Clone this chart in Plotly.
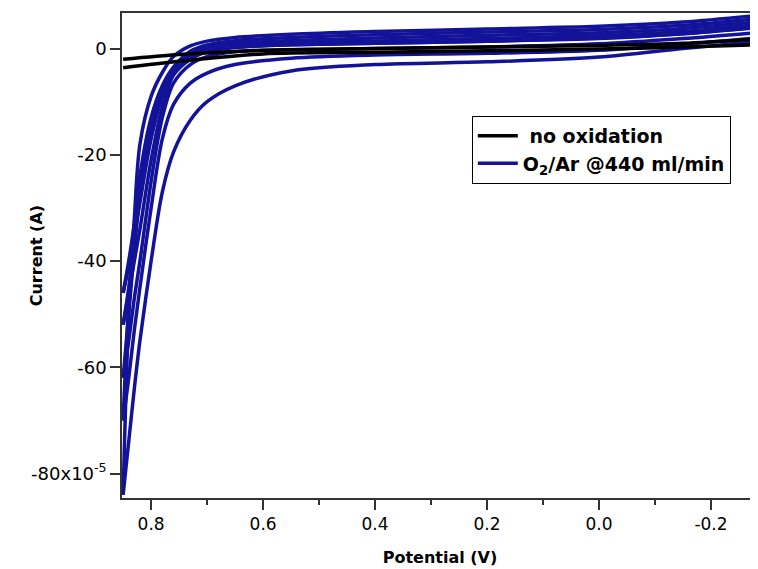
import plotly.graph_objects as go

# Potential grid (V) shared by the blue sweeps, from the vertex at the left to the right edge
potential = [0.85, 0.84, 0.83, 0.82, 0.80, 0.78, 0.76, 0.73, 0.70, 0.65, 0.55, 0.40, 0.20, 0.0, -0.15, -0.28]

# O2/Ar @440 ml/min cycles (current in units of 1e-5 A), outer branch and return branch
blue_up_1 = [-84, -50, -32, -18, -9, -4.5, -1.5, 0.5, 1.4, 2.1, 2.7, 3.2, 3.7, 4.2, 5.0, 6.2]
blue_up_2 = [-70, -48, -34, -24, -13, -7, -3.5, -0.5, 0.7, 1.5, 2.1, 2.6, 3.1, 3.6, 4.4, 5.6]
blue_up_3 = [-62, -50, -38, -28, -15, -8, -4, -1, 0.3, 1.0, 1.5, 2.0, 2.5, 3.0, 3.8, 5.0]
blue_up_4 = [-52, -45, -36, -27, -15, -8.5, -4.5, -1.5, 0.0, 0.6, 1.0, 1.4, 1.9, 2.4, 3.2, 4.5]
blue_up_5 = [-46, -40, -33, -25, -14, -8, -4.5, -1.8, -0.3, 0.3, 0.7, 1.0, 1.4, 2.0, 2.8, 4.0]

blue_down_1 = [-84, -74, -64, -55, -40, -27, -19.5, -13.5, -10, -7.0, -4.2, -3.0, -2.5, -1.6, 0.0, 1.3]
blue_down_2 = [-70, -62, -53, -45, -30, -17, -10.5, -6.5, -4.6, -3.0, -1.8, -1.2, -0.9, -0.3, 0.8, 2.0]
blue_down_3 = [-62, -55, -47, -40, -25, -13, -6.5, -3.0, -1.5, -0.6, -0.2, 0.0, 0.3, 0.9, 1.9, 3.0]
blue_down_4 = [-52, -46, -40, -34, -21, -11, -5, -2.0, -0.6, 0.2, 0.7, 1.0, 1.4, 1.9, 2.8, 3.9]
blue_down_5 = [-46, -41, -35, -29, -17, -9, -4, -1.5, -0.2, 0.6, 1.1, 1.4, 1.8, 2.3, 3.1, 4.3]

# No oxidation (black) loop
black_potential = [0.85, 0.75, 0.6, 0.4, 0.2, 0.0, -0.15, -0.28]
black_up = [-2.0, -1.1, -0.3, 0.0, 0.3, 0.6, 1.0, 1.8]
black_down = [-3.6, -2.4, -1.0, -0.7, -0.4, -0.1, 0.3, 0.7]

x_tick_vals = [0.8, 0.6, 0.4, 0.2, 0.0, -0.2]
x_tick_text = ["0.8", "0.6", "0.4", "0.2", "0.0", "-0.2"]
x_minor_vals = [0.7, 0.5, 0.3, 0.1, -0.1]
y_tick_vals = [0, -20, -40, -60, -80]
y_tick_text = ["0", "-20", "-40", "-60", "-80x10<sup>-5</sup>"]

BLUE = "#13139a"
FONT = "DejaVu Sans"
AX = "#333333"

fig = go.Figure()

blue_sets = [blue_up_1, blue_down_1, blue_up_2, blue_down_2, blue_up_3, blue_down_3,
             blue_up_4, blue_down_4, blue_up_5, blue_down_5]
for i, ys in enumerate(blue_sets):
    fig.add_trace(go.Scatter(
        x=potential, y=ys, mode="lines",
        line=dict(color=BLUE, width=3.5, shape="spline", smoothing=0.9),
        name="O<sub>2</sub>/Ar @440 ml/min", legendgroup="blue",
        showlegend=(i == 0), legendrank=2))

for i, ys in enumerate([black_up, black_down]):
    fig.add_trace(go.Scatter(
        x=black_potential, y=ys, mode="lines",
        line=dict(color="black", width=3.5, shape="spline", smoothing=0.8),
        name=" no oxidation", legendgroup="black",
        showlegend=(i == 0), legendrank=1))

fig.add_annotation(text="<b>Current (A)</b>", xref="paper", yref="paper",
                   x=-0.134, y=0.5, textangle=-90, showarrow=False,
                   xanchor="center", yanchor="middle",
                   font=dict(family=FONT, size=16, color="black"))

fig.update_layout(
    width=750, height=561,
    margin=dict(l=114, r=0, t=5, b=71),
    paper_bgcolor="white", plot_bgcolor="white",
    font=dict(family=FONT, color="black", size=18),
    showlegend=True,
    legend=dict(x=0.55, y=0.788, xanchor="left", yanchor="top",
                bordercolor="black", borderwidth=1, bgcolor="white",
                font=dict(family=FONT, size=19, color="black", weight="bold"),
                tracegroupgap=0, itemwidth=40),
    xaxis=dict(range=[0.852, -0.284], showgrid=False, zeroline=False, automargin=False,
               showline=True, linecolor=AX, linewidth=1.5, mirror=True,
               ticks="outside", ticklen=10, tickwidth=1.5, tickcolor=AX,
               tickvals=x_tick_vals, ticktext=x_tick_text,
               tickfont=dict(family=FONT, size=17),
               minor=dict(tickvals=x_minor_vals, ticks="outside",
                          ticklen=5, tickwidth=1.5, tickcolor=AX),
               title=dict(text="Potential (V)", font=dict(family=FONT, size=16, weight="bold"),
                          standoff=19)),
    yaxis=dict(range=[-84.6, 6.7], showgrid=False, zeroline=False, automargin=False,
               showline=True, linecolor=AX, linewidth=1.5, mirror=False,
               ticks="outside", ticklen=10, tickwidth=1.5, tickcolor=AX,
               tickvals=y_tick_vals, ticktext=y_tick_text,
               tickfont=dict(family=FONT, size=18)),
)

fig.write_html("out.html")
